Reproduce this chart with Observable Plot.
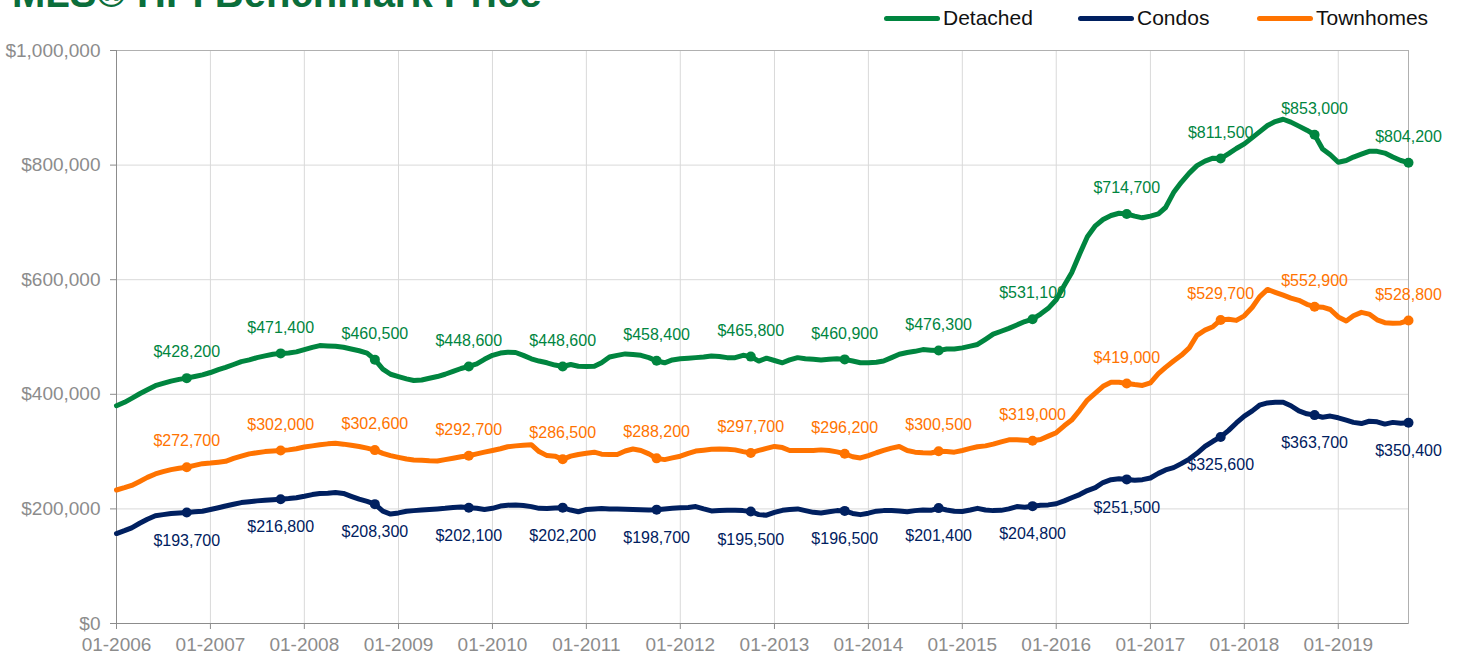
<!DOCTYPE html>
<html>
<head>
<meta charset="utf-8">
<script src="https://cdn.jsdelivr.net/npm/d3@7"></script>
<script src="https://cdn.jsdelivr.net/npm/@observablehq/plot@0.6"></script>
<style>
  html, body { margin: 0; padding: 0; background: #fff; }
  #wrap { position: relative; width: 1458px; height: 660px; overflow: hidden; font-family: "Liberation Sans", Arial, sans-serif; }
  #title { position: absolute; left: 12px; top: -27px; font-size: 40px; line-height: 40px; font-weight: bold; color: #0b6e3b; white-space: nowrap; z-index: 2; }
  .lg { position: absolute; top: 0; height: 36px; display: flex; align-items: center; font-size: 21px; color: #111; z-index: 2; white-space: nowrap; }
  .sw { display: inline-block; width: 56px; height: 5px; border-radius: 3px; margin-right: 3px; }
  #chart { position: absolute; left: 0; top: 0; }
</style>
</head>
<body>
<div id="wrap">
  <div id="title">MLS® HPI Benchmark Price</div>
  <div id="legend"></div>
  <div id="chart"></div>
</div>
<script>
// ---------- DATA ----------
const seriesNames = ["Detached", "Condos", "Townhomes"];
const seriesColors = ["#00853f", "#002060", "#ff7300"];

// Monthly benchmark prices, in $ thousands, Jan 2006 .. Oct 2019
const detachedK = [
  380, 386, 393, 401, 408, 415, 419, 423, 426, 428.2, 431, 434,          // 2006
  438, 443, 447, 452, 457, 460, 464, 467, 470, 471.4, 472, 474,          // 2007
  478, 482, 485, 484.5, 484, 482, 479, 476, 472, 460.5, 444, 435,        // 2008
  431, 427, 424, 425, 428, 431, 435, 440, 445, 448.6, 453, 461,          // 2009
  468, 472, 473.5, 473, 468, 462, 458, 455, 451, 448.6, 452, 449,        // 2010
  448.5, 449, 455, 465, 468, 470.5, 469.5, 468, 464, 458.4, 455, 460,    // 2011
  462, 463, 464, 465, 467, 466, 464, 464, 468, 465.8, 458, 463,          // 2012
  459, 455, 460, 464, 462, 461, 460, 461, 462, 460.9, 458, 455,          // 2013
  455, 456, 458, 464, 470, 473, 475, 478, 477, 476.3, 479, 479,          // 2014
  481, 484, 487, 496, 505, 510, 515, 521, 527, 531.1, 540, 550,          // 2015
  565, 590, 612, 645, 675, 694, 705, 712, 716, 714.7, 711, 708,          // 2016
  711, 715, 726, 752, 770, 786, 799, 807, 812, 811.5, 820, 829,          // 2017
  837, 848, 858, 869, 876, 880, 875, 868, 861, 853, 828, 818,            // 2018
  805, 808, 814, 819, 824, 824, 821, 814, 808, 804.2                     // 2019
];
const condosK = [
  157, 162, 167, 175, 182, 188, 190, 192, 193, 193.7, 195, 196,          // 2006
  199, 202, 205, 208, 211, 212.5, 214, 215, 216, 216.8, 218, 219.5,      // 2007
  222, 225, 227, 227.5, 228.5, 227, 222, 217, 213, 208.3, 196, 191,      // 2008
  193, 196, 197, 198, 199, 200, 201, 202.5, 203.5, 202.1, 201, 199,      // 2009
  201, 205, 206.5, 207, 206, 204, 201, 200.5, 201.5, 202.2, 198, 195,    // 2010
  199, 200, 200.5, 200, 200, 199.5, 199, 198.5, 198, 198.7, 200, 201,    // 2011
  202, 202.5, 204, 200, 196.5, 197, 197.5, 197.5, 197, 195.5, 190, 189,  // 2012
  194, 197.5, 199, 200, 197, 194, 193, 195, 197, 196.5, 192, 190,        // 2013
  192.5, 196, 197, 197, 196.5, 195, 197, 198, 197.5, 201.4, 198, 196,    // 2014
  195.5, 198, 201, 198, 197, 197.5, 200, 204, 203, 204.8, 206.5, 207,    // 2015
  209, 214, 219.5, 225, 232, 237, 246, 251, 252.5, 251.5, 250, 251,      // 2016
  254, 262, 268, 272, 279, 287, 297, 309, 318, 325.6, 337, 350,          // 2017
  362, 371, 381, 385, 386, 386, 380, 371, 366, 363.7, 360, 362,          // 2018
  359, 355, 351, 349, 353, 352, 348, 351, 349.5, 350.4                   // 2019
];
const townhomesK = [
  233, 237, 241, 248, 255, 261, 265, 268.5, 271, 272.7, 276, 279,        // 2006
  280, 281.5, 283, 288, 292, 296, 298, 300, 301, 302, 303, 305,          // 2007
  308, 310, 312, 313.5, 314.5, 313, 311, 309, 306, 302.6, 297, 293,      // 2008
  290, 287, 285.5, 285, 284, 283.5, 286, 288.5, 291, 292.7, 296, 299,    // 2009
  302, 305, 308.5, 310, 311, 312, 300, 293, 292, 286.5, 292, 295,        // 2010
  297, 299, 295.5, 295, 295, 301, 304.5, 302, 296, 288.2, 286, 289,      // 2011
  292, 297, 301, 302.5, 304, 304.5, 304, 303, 300, 297.7, 302, 305.5,    // 2012
  309, 307, 302, 302, 302, 302, 303, 302, 299.5, 296.2, 291, 289,        // 2013
  293, 298, 302, 306, 309, 302, 299, 298, 297.5, 300.5, 300, 299,        // 2014
  302, 305.5, 308.5, 310, 313, 317, 320.5, 320.5, 320, 319, 321, 327,    // 2015
  333, 345, 355, 372, 390, 402, 414, 421, 421, 419, 417, 415.5,          // 2016
  420, 436, 447, 458, 468, 481, 503, 512, 518, 529.7, 531, 529,          // 2017
  537, 552, 570, 583, 578, 573, 568, 564, 557, 552.9, 552, 548,          // 2018
  535, 528, 537, 543, 540, 530, 525, 524, 524.5, 528.8                   // 2019
];

// Annotated October values
const labelYears = [2006, 2007, 2008, 2009, 2010, 2011, 2012, 2013, 2014, 2015, 2016, 2017, 2018, 2019];
const labelDetached = [428200, 471400, 460500, 448600, 448600, 458400, 465800, 460900, 476300, 531100, 714700, 811500, 853000, 804200];
const labelCondos = [193700, 216800, 208300, 202100, 202200, 198700, 195500, 196500, 201400, 204800, 251500, 325600, 363700, 350400];
const labelTownhomes = [272700, 302000, 302600, 292700, 286500, 288200, 297700, 296200, 300500, 319000, 419000, 529700, 552900, 528800];

const yTickValues = [0, 200000, 400000, 600000, 800000, 1000000];
const xTickYears = [2006, 2007, 2008, 2009, 2010, 2011, 2012, 2013, 2014, 2015, 2016, 2017, 2018, 2019];

// ---------- BUILD ----------
const months = d3.utcMonth.range(new Date(Date.UTC(2006, 0, 1)), new Date(Date.UTC(2019, 10, 1)));
const seriesK = [detachedK, condosK, townhomesK];
const rows = [];
seriesNames.forEach((s, i) => {
  seriesK[i].forEach((v, j) => rows.push({ date: months[j], series: s, value: v * 1000 }));
});
const labelSets = [labelDetached, labelCondos, labelTownhomes];
const labels = [];
seriesNames.forEach((s, i) => {
  labelSets[i].forEach((v, j) => labels.push({ date: new Date(Date.UTC(labelYears[j], 9, 1)), series: s, value: v }));
});
const money = d => "$" + d3.format(",")(d);
const xTicks = xTickYears.map(y => new Date(Date.UTC(y, 0, 1)));

const chart = Plot.plot({
  width: 1458,
  height: 660,
  marginLeft: 116,
  marginRight: 50,
  marginTop: 50,
  marginBottom: 37,
  style: { fontFamily: "'Liberation Sans', Arial, sans-serif", fontSize: "19px", background: "transparent", overflow: "visible" },
  x: { type: "utc", domain: [months[0], months[months.length - 1]] },
  y: { domain: [0, 1000000] },
  color: { domain: seriesNames, range: seriesColors },
  marks: [
    Plot.gridX(xTicks, { stroke: "#d9d9d9", strokeOpacity: 1 }),
    Plot.gridY(yTickValues, { stroke: "#d9d9d9", strokeOpacity: 1 }),
    Plot.frame({ stroke: "#b0b0b0" }),
    Plot.ruleY([0], { stroke: "#8c8c8c" }),
    Plot.ruleX([months[0]], { stroke: "#8c8c8c" }),
    Plot.axisX(xTicks, { tickFormat: d3.utcFormat("%m-%Y"), tickSize: 6, tickPadding: 8, color: "#8c8c8c", label: null, fontSize: 19 }),
    Plot.axisY(yTickValues, { tickFormat: money, tickSize: 6, tickPadding: 10, color: "#8c8c8c", label: null, fontSize: 19 }),
    Plot.text(labels.filter(d => d.series !== "Condos"), { x: "date", y: "value", text: d => money(d.value), fill: "series", dy: -26, fontSize: 16 }),
    Plot.text(labels.filter(d => d.series === "Condos"), { x: "date", y: "value", text: d => money(d.value), fill: "series", dy: 28, fontSize: 16 }),
    Plot.line(rows, { x: "date", y: "value", z: "series", stroke: "series", strokeWidth: 5, strokeLinejoin: "round", strokeLinecap: "round" }),
    Plot.dot(labels, { x: "date", y: "value", fill: "series", r: 5 })
  ]
});
document.getElementById("chart").appendChild(chart);

// Legend
const legendLeft = [884, 1078, 1257];
const legend = document.getElementById("legend");
seriesNames.forEach((s, i) => {
  const item = document.createElement("div");
  item.className = "lg";
  item.style.left = legendLeft[i] + "px";
  item.innerHTML = `<span class="sw" style="background:${seriesColors[i]}"></span><span>${s}</span>`;
  legend.appendChild(item);
});
</script>
</body>
</html>
